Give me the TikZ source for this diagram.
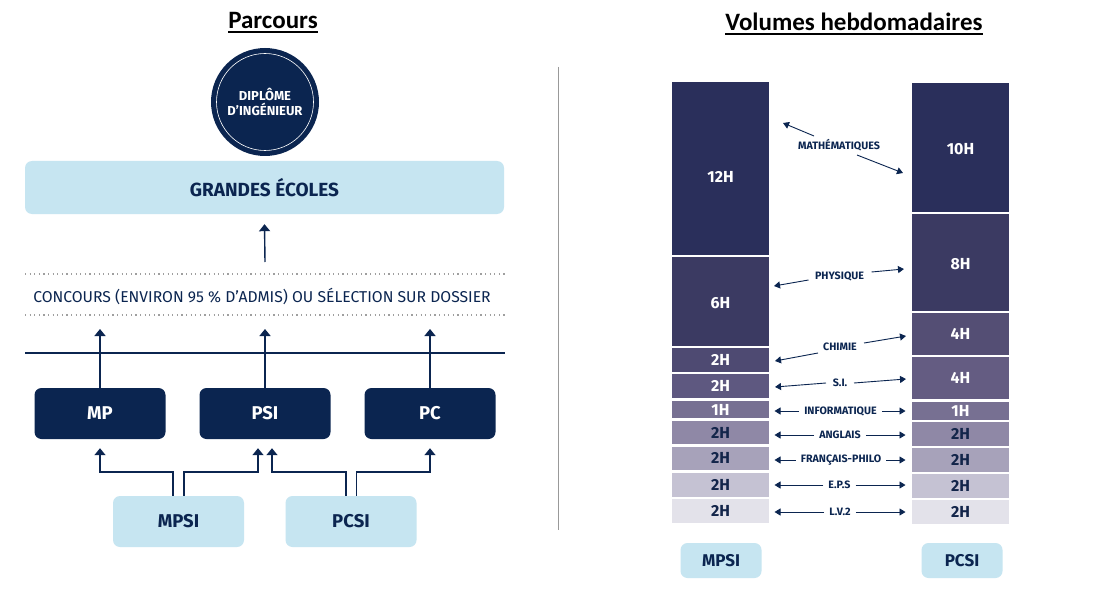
\documentclass[tikz,border=0pt]{standalone}
\usepackage{fontspec}
\setmainfont{Fira Sans}
\newfontfamily\titlefont{Carlito}
\usetikzlibrary{arrows.meta,calc}

% colours
\definecolor{navy}{HTML}{0B2550}
\definecolor{paleblue}{HTML}{C6E5F1}
\definecolor{inkblue}{HTML}{13254A}
\definecolor{barA}{HTML}{2A2F5B}
\definecolor{barB}{HTML}{3B3A62}
\definecolor{barC}{HTML}{4E4A72}
\definecolor{barCC}{HTML}{544E74}
\definecolor{barD}{HTML}{5E5880}
\definecolor{barDD}{HTML}{645C82}
\definecolor{barE}{HTML}{777092}
\definecolor{barF}{HTML}{8F88A6}
\definecolor{barG}{HTML}{A7A2BA}
\definecolor{barH}{HTML}{C5C2D3}
\definecolor{barI}{HTML}{E3E2EA}

\tikzset{
  heading/.style={font=\titlefont\fontsize{25}{25}\selectfont\bfseries, inner sep=0pt, anchor=base},
  darkbox/.style={fill=navy, rounded corners=7pt, minimum width=131pt, minimum height=51pt,
    text=white, font=\fontsize{18.5}{18.5}\selectfont\bfseries},
  lightbox/.style={fill=paleblue, rounded corners=7pt, minimum width=131pt, minimum height=51pt,
    text=navy, font=\fontsize{18.5}{18.5}\selectfont\bfseries},
  flow/.style={draw=navy, line width=1.4pt, -{Triangle[width=11pt,length=7pt]}},
  dotline/.style={draw=gray!75, line width=1.2pt, dash pattern=on 1.2pt off 3.4pt},
  hbar/.style={minimum width=97pt, inner sep=0pt},
  hours/.style={font=\fontsize{16}{16}\selectfont\bfseries, inner sep=0pt},
  subject/.style={text=navy, font=\fontsize{10.7}{11}\selectfont\bfseries, inner xsep=5pt, inner ysep=1pt},
  tip/.style={draw=navy, line width=0.9pt, -{Triangle[width=7pt,length=6pt]}},
  classbox/.style={fill=paleblue, rounded corners=7pt, minimum width=81pt, minimum height=35pt,
    text=navy, font=\fontsize{17}{17}\selectfont\bfseries},
  underrule/.style={line width=1.8pt}
}

\begin{document}
\begin{tikzpicture}[x=1pt, y=-1pt]
    \useasboundingbox (0,0) rectangle (1111,591);
    \fill[white] (0,0) rectangle (1111,591);

    % ---------------- Parcours ----------------
    \node[heading] (parcours) at (273,28.5) {Parcours};
    \draw[underrule] ([yshift=-3.5pt]parcours.base west) -- ([yshift=-3.5pt]parcours.base east);

    % Diploma disc
    \node[circle, fill=navy, minimum size=108pt, text=white, align=center,
          font=\fontsize{13}{15.5}\selectfont\bfseries] (diplome) at (265,102) {DIPLÔME\\D’INGÉNIEUR};
    \draw[white, line width=0.6pt] (diplome.center) circle (48.5pt);

    % Grandes ecoles
    \node[lightbox, minimum width=479pt, minimum height=53pt, font=\fontsize{19}{19}\selectfont\bfseries]
          (ecoles) at (264.5,187.5) {GRANDES ÉCOLES};
    \coordinate (concoursTail) at (265,262);
    \draw[flow] (concoursTail) -- ([yshift=-10pt]ecoles.south);

    % Concours band
    \draw[dotline] (25,274) -- (505,274);
    \node[text=navy, font=\fontsize{15.7}{16}\selectfont] (concours) at (262,296)
          {CONCOURS (ENVIRON 95 \% D’ADMIS) OU SÉLECTION SUR DOSSIER};
    \draw[dotline] (25,315) -- (505,315);
    \draw[navy, line width=1.3pt] (25,353) -- (505,353);

    % Second year classes
    \node[darkbox] (mp)  at (100,413.5) {MP};
    \node[darkbox] (psi) at (265,413.5) {PSI};
    \node[darkbox] (pc)  at (430,413.5) {PC};
    \coordinate (topTip) at (0,329);
    \foreach \cls in {mp,psi,pc}
        \draw[flow] (\cls.north) -- (\cls.north |- topTip);

    % First year classes
    \node[lightbox] (mpsi) at (178.5,521.5) {MPSI};
    \node[lightbox] (pcsi) at (351,521.5) {PCSI};
    \draw[flow] ([xshift=-5.5pt]mpsi.north) -- ++(0,-24) -| ([yshift=-9pt]mp.south);
    \draw[flow] ([xshift=5.5pt]mpsi.north) -- ++(0,-24) -| ([shift={(-7pt,-9pt)}]psi.south);
    \draw[flow] ([xshift=-5pt]pcsi.north) -- ++(0,-24) -| ([shift={(7pt,-9pt)}]psi.south);
    \draw[flow] ([xshift=5.5pt]pcsi.north) -- ++(0,-24) -| ([yshift=-9pt]pc.south);

    % separator
    \draw[gray!80, line width=1pt] (558,67) -- (558,530);

    % ---------------- Volumes hebdomadaires ----------------
    \node[heading] (volumes) at (854,30.5) {Volumes hebdomadaires};
    \draw[underrule] ([yshift=-3.5pt]volumes.base west) -- ([yshift=-3.5pt]volumes.base east);

    % MPSI column
    \foreach \top/\bot/\col/\ink/\txt/\dy [count=\i] in {
        81.7/255/barA/white/12H/9, 256.7/346/barB/white/6H/1.5, 348/371.7/barC/white/2H/0,
        374/398.3/barD/white/2H/0, 400.7/418.3/barE/white/1H/0, 420.7/444.3/barF/inkblue/2H/0,
        446.7/470/barG/inkblue/2H/0, 472.7/496.7/barH/inkblue/2H/0, 499.3/522.7/barI/inkblue/2H/0}
    {
        \node[hbar, fill=\col, minimum height={(\bot-\top)*1pt}] (l\i) at (720.5,{(\top+\bot)/2}) {};
        \node[hours, text=\ink] (lh\i) at ($(l\i.center)+(0,\dy)$) {\txt};
    }

    % PCSI column
    \foreach \top/\bot/\col/\ink/\txt/\dy [count=\i] in {
        83.3/212.3/barA/white/10H/1.5, 214/311/barB/white/8H/1.5, 313.3/355/barCC/white/4H/0,
        357.3/399.3/barDD/white/4H/0, 402/420/barE/white/1H/0, 422.3/445.7/barF/inkblue/2H/0,
        448/471.7/barG/inkblue/2H/0, 474.3/497.7/barH/inkblue/2H/0, 500/524/barI/inkblue/2H/0}
    {
        \node[hbar, fill=\col, minimum height={(\bot-\top)*1pt}] (r\i) at (960.5,{(\top+\bot)/2}) {};
        \node[hours, text=\ink] (rh\i) at ($(r\i.center)+(0,\dy)$) {\txt};
    }

    % subjects with slanted arrows
    \foreach \nm/\txt/\xx/\yy/\lx/\ly/\ax/\ay/\rx/\ry/\bx/\by in {
        maths/MATHÉMATIQUES/839/145/-25/-9/783/123/18/10/903/173,
        physique/PHYSIQUE/839.5/276/-31/4/774/286/32/-4/904/269,
        chimie/CHIMIE/840/347/-22/6/775/361/24/-4/906/336,
        si/S.I./840/383/-14/0/775/387/14/0/906/379}
    {
        \node[subject] (\nm) at (\xx,\yy) {\txt};
        \coordinate (\nm-l) at (\ax,\ay);
        \coordinate (\nm-r) at (\bx,\by);
        \draw[tip] ([shift={(\lx,\ly)}]\nm.center) -- (\nm-l);
        \draw[tip] ([shift={(\rx,\ry)}]\nm.center) -- (\nm-r);
    }

    % subjects with straight arrows
    \coordinate (leftEdge) at (774.5,0);
    \coordinate (rightEdge) at (905.5,0);
    \foreach \nm/\txt/\xx/\yy in {info/INFORMATIQUE/840.5/411, anglais/ANGLAIS/840/435,
        francais/FRANÇAIS-PHILO/841/460, eps/E.P.S/839.5/485, lv/L.V.2/840/512}
    {
        \node[subject] (\nm) at (\xx,\yy) {\txt};
        \draw[tip] (\nm.west) -- (\nm.west -| leftEdge);
        \draw[tip] (\nm.east) -- (\nm.east -| rightEdge);
    }

    % class labels
    \node[classbox] (mpsiTag) at (721,560.5) {MPSI};
    \node[classbox] (pcsiTag) at (962,560.5) {PCSI};
\end{tikzpicture}
\end{document}
